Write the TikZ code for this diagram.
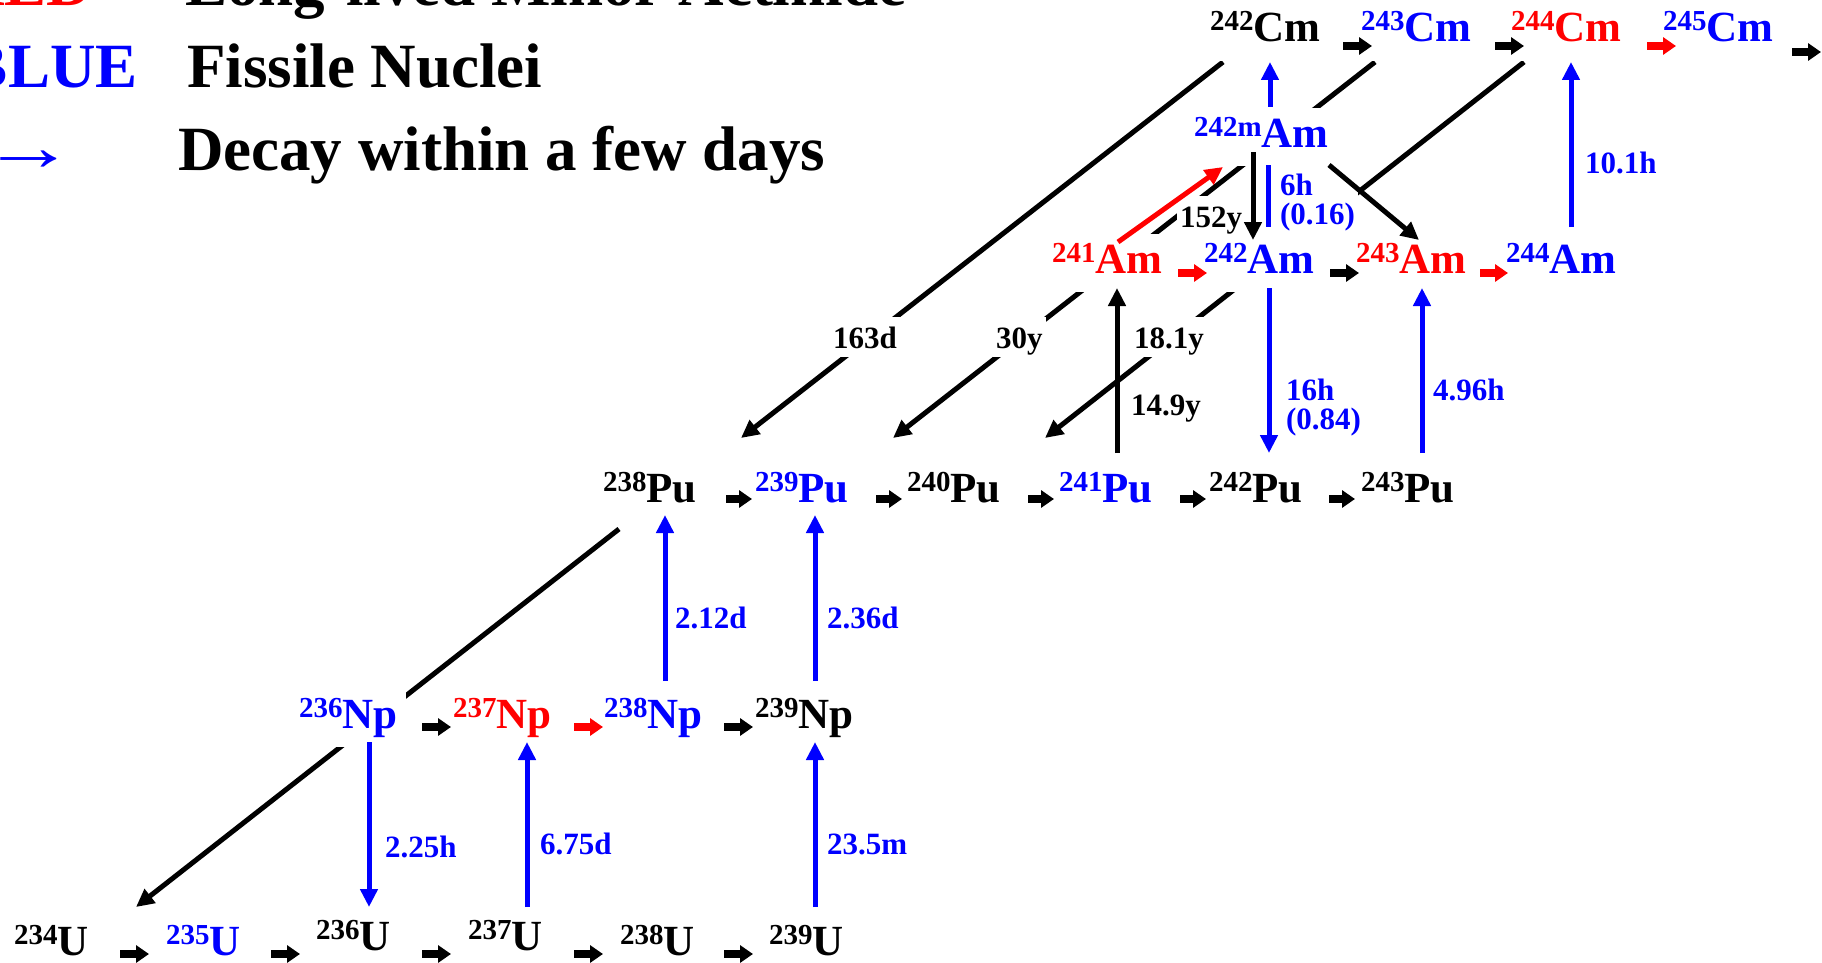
\documentclass[tikz,border=0pt]{standalone}
\usepackage{fontspec}
\setmainfont{Liberation Serif}
\usetikzlibrary{arrows.meta,calc,backgrounds}
\newcommand{\nuc}[2]{\raisebox{11pt}{\fontsize{29}{29}\selectfont #1}#2}
\begin{document}
\begin{tikzpicture}[x=1pt,y=-1pt,
  nucl/.style={anchor=text, inner xsep=9pt, inner ysep=9pt, text depth=10pt, fill=white, font=\fontsize{43}{50}\selectfont\bfseries},
  lab/.style={anchor=text, inner sep=3pt, text height=28pt, text depth=6pt, fill=white, font=\fontsize{31}{25}\selectfont\bfseries},
  lab2/.style={anchor=text, inner sep=3pt, fill=white, font=\fontsize{31}{25}\selectfont\bfseries},
  leg/.style={anchor=text, inner sep=0pt, font=\fontsize{63}{70}\selectfont\bfseries},
  sarr/.style={line width=7.5pt, -{Triangle[length=13pt,width=17pt]}},
  larr/.style={line width=5pt, -{Triangle[length=18pt,width=17pt]}},
  bline/.style={line width=5pt},
]
\useasboundingbox (0,0) rectangle (1822,963);

% legend
\node[leg, text=red] (legR) at (-41,6) {RED};
\node[leg] (legRt) at (185,6) {Long-lived Minor Actinide};
\node[leg, text=blue] (legB) at (-34,88) {BLUE};
\node[leg] (legBt) at (187,88) {Fissile Nuclei};
\node[leg, text=blue, font=\fontsize{63}{70}\selectfont\mdseries] (legA) at (-18,170) {\scalebox{1.5}[1.1]{→}};
\node[leg] (legAt) at (178,170) {Decay within a few days};

% U row
\node[nucl] (U234) at (14,955) {\nuc{234}{U}};
\node[nucl, text=blue] (U235) at (166,955) {\nuc{235}{U}};
\node[nucl] (U236) at (316,950) {\nuc{236}{U}};
\node[nucl] (U237) at (468,950) {\nuc{237}{U}};
\node[nucl] (U238) at (620,955) {\nuc{238}{U}};
\node[nucl] (U239) at (769,955) {\nuc{239}{U}};
% Np row
\node[nucl, text=blue] (Np236) at (299,728) {\nuc{236}{Np}};
\node[nucl, text=red] (Np237) at (453,728) {\nuc{237}{Np}};
\node[nucl, text=blue] (Np238) at (604,728) {\nuc{238}{Np}};
\node[nucl] (Np239) at (755,728) {\nuc{239}{Np}};
% Pu row
\node[nucl] (Pu238) at (603,502) {\nuc{238}{Pu}};
\node[nucl, text=blue] (Pu239) at (755,502) {\nuc{239}{Pu}};
\node[nucl] (Pu240) at (907,502) {\nuc{240}{Pu}};
\node[nucl, text=blue] (Pu241) at (1059,502) {\nuc{241}{Pu}};
\node[nucl] (Pu242) at (1209,502) {\nuc{242}{Pu}};
\node[nucl] (Pu243) at (1361,502) {\nuc{243}{Pu}};
% Am row
\node[nucl, text=red] (Am241) at (1052,273) {\nuc{241}{Am}};
\node[nucl, text=blue] (Am242) at (1204,273) {\nuc{242}{Am}};
\node[nucl, text=red] (Am243) at (1356,273) {\nuc{243}{Am}};
\node[nucl, text=blue] (Am244) at (1506,273) {\nuc{244}{Am}};
\node[nucl, text=blue] (Am242m) at (1194,147) {\nuc{242m}{Am}};
% Cm row
\node[nucl] (Cm242) at (1210,42) {\nuc{242}{Cm}};
\node[nucl, text=blue] (Cm243) at (1361,42) {\nuc{243}{Cm}};
\node[nucl, text=red] (Cm244) at (1511,42) {\nuc{244}{Cm}};
\node[nucl, text=blue] (Cm245) at (1663,42) {\nuc{245}{Cm}};

% labels
\node[lab, text=blue] (l225) at (385,857) {2.25h};
\node[lab, text=blue] (l675) at (540,854) {6.75d};
\node[lab, text=blue] (l235) at (827,854) {23.5m};
\node[lab, text=blue] (l212) at (675,628) {2.12d};
\node[lab, text=blue] (l236) at (827,628) {2.36d};
\node[lab] (l163) at (833,348) {163d};
\node[lab] (l30) at (996,348) {30y};
\node[lab] (l181) at (1134,348) {18.1y};
\node[lab] (l149) at (1131,415) {14.9y};
\node[lab2, text=blue] (l16) at (1286,400) {\begin{tabular}[t]{@{}l@{}}16h\\(0.84)\end{tabular}};
\node[lab, text=blue] (l496) at (1433,400) {4.96h};
\node[lab, text=blue] (l101) at (1585,173) {10.1h};
\node[lab] (l152) at (1180,227) {152y};
\node[lab2, text=blue] (l6) at (1280,195) {\begin{tabular}[t]{@{}l@{}}6h\\(0.16)\end{tabular}};

% long alpha-decay lines (behind the text boxes)
\begin{pgfonlayer}{background}
\draw[larr] ($(Cm242.text)+(13,20)$) -- ($(Pu238.text)+(138,-64)$);
\draw[larr] ($(Cm243.text)+(14,20)$) -- ($(Pu239.text)+(138,-64)$);
\draw[larr] ($(Cm244.text)+(13,20)$) -- ($(Pu240.text)+(138,-64)$);
\draw[larr] ($(Pu238.text)+(16,27)$) -- ($(U234.text)+(122,-48)$);
\end{pgfonlayer}

% small capture arrows
\draw[sarr] ($(U234.text)+(106,-1)$) -- ($(U235.text)+(-17,-1)$);
\draw[sarr] ($(U235.text)+(105,-1)$) -- ($(U236.text)+(-16,4)$);
\draw[sarr] ($(U236.text)+(106,4)$) -- ($(U237.text)+(-17,4)$);
\draw[sarr] ($(U237.text)+(106,4)$) -- ($(U238.text)+(-17,-1)$);
\draw[sarr] ($(U238.text)+(104,-1)$) -- ($(U239.text)+(-16,-1)$);
\draw[sarr] ($(Np236.text)+(123,-1)$) -- ($(Np237.text)+(-2,-1)$);
\draw[sarr, red] ($(Np237.text)+(121,-1)$) -- ($(Np238.text)+(-1,-1)$);
\draw[sarr] ($(Np238.text)+(120,-1)$) -- ($(Np239.text)+(-2,-1)$);
\draw[sarr] ($(Pu238.text)+(123,-3)$) -- ($(Pu239.text)+(-3,-3)$);
\draw[sarr] ($(Pu239.text)+(121,-3)$) -- ($(Pu240.text)+(-5,-3)$);
\draw[sarr] ($(Pu240.text)+(121,-3)$) -- ($(Pu241.text)+(-5,-3)$);
\draw[sarr] ($(Pu241.text)+(121,-3)$) -- ($(Pu242.text)+(-3,-3)$);
\draw[sarr] ($(Pu242.text)+(120,-3)$) -- ($(Pu243.text)+(-6,-3)$);
\draw[sarr, red] ($(Am241.text)+(126,0)$) -- ($(Am242.text)+(3,0)$);
\draw[sarr] ($(Am242.text)+(126,0)$) -- ($(Am243.text)+(3,0)$);
\draw[sarr, red] ($(Am243.text)+(124,0)$) -- ($(Am244.text)+(2,0)$);
\draw[sarr] ($(Cm242.text)+(133,4)$) -- ($(Cm243.text)+(11,4)$);
\draw[sarr] ($(Cm243.text)+(134,4)$) -- ($(Cm244.text)+(13,4)$);
\draw[sarr, red] ($(Cm244.text)+(136,4)$) -- ($(Cm245.text)+(13,4)$);
\coordinate (Cmout) at ($(Cm245.text)+(158,10)$);
\draw[sarr] ($(Cm245.text)+(129,10)$) -- (Cmout);

% beta decays (blue)
\draw[larr, blue] ($(Np236.text)+(70,14)$) -- ($(U236.text)+(53,-43)$);
\draw[larr, blue] ($(U237.text)+(59,-43)$) -- ($(Np237.text)+(74,14)$);
\draw[larr, blue] ($(U239.text)+(46,-48)$) -- ($(Np239.text)+(60,14)$);
\draw[larr, blue] ($(Np238.text)+(61,-47)$) -- ($(Pu238.text)+(62,13)$);
\draw[larr, blue] ($(Np239.text)+(60,-47)$) -- ($(Pu239.text)+(60,13)$);
\draw[larr, blue] ($(Am242.text)+(65,15)$) -- ($(Pu242.text)+(60,-49)$);
\draw[larr, blue] ($(Pu243.text)+(61,-49)$) -- ($(Am243.text)+(66,15)$);
\draw[larr, blue] ($(Am242m.text)+(76,-40)$) -- ($(Cm242.text)+(60,20)$);
\draw[larr, blue] ($(Am244.text)+(65,-46)$) -- ($(Cm244.text)+(60,20)$);
\draw[bline, blue] ($(Am242m.text)+(74,18)$) -- ($(Am242.text)+(64,-46)$);

% other decays (black / red)
\draw[larr] ($(Pu241.text)+(58,-49)$) -- ($(Am241.text)+(65,15)$);
\draw[larr] ($(Am242m.text)+(59,5)$) -- ($(Am242.text)+(49,-33)$);
\draw[larr] ($(Am242m.text)+(135,18)$) -- ($(Am243.text)+(63,-33)$);
\draw[larr, red] ($(Am241.text)+(66,-31)$) -- ($(Am242m.text)+(29,20)$);
\end{tikzpicture}
\end{document}
